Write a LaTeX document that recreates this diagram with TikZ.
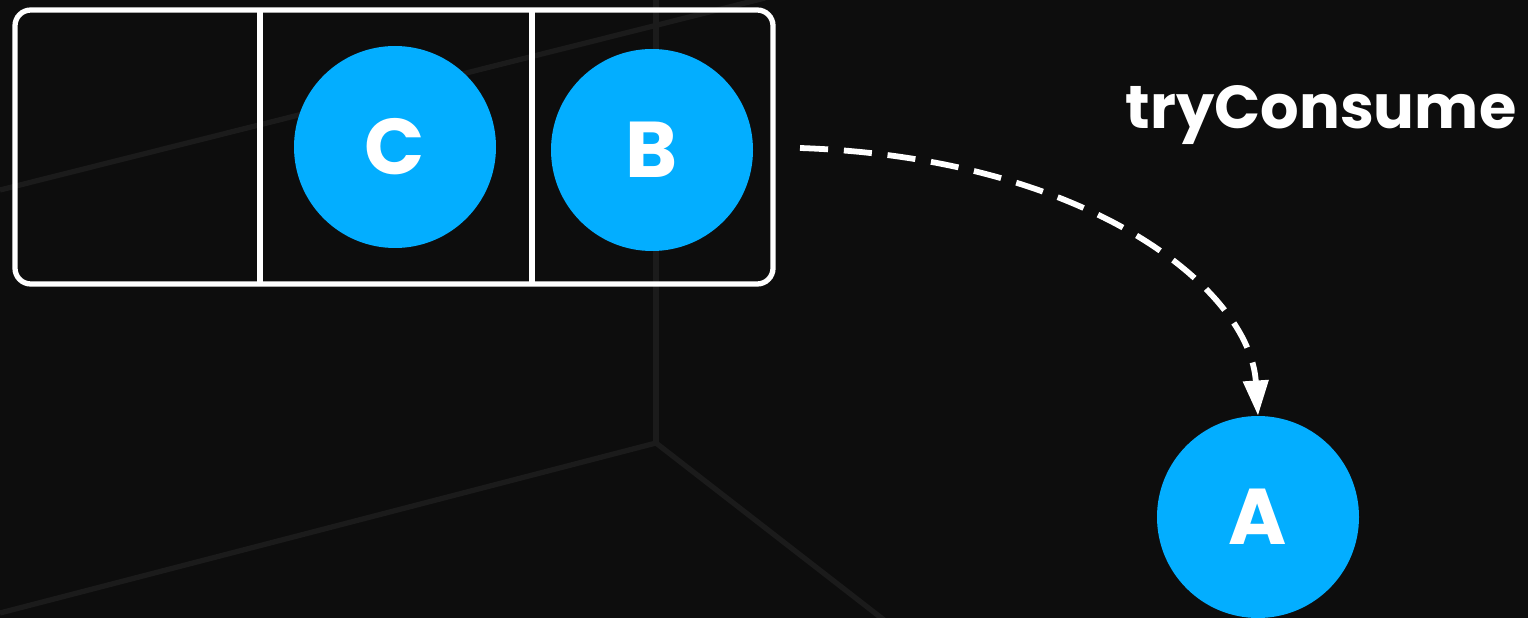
\documentclass[tikz,border=0pt]{standalone}
\usepackage{fontspec}
\setmainfont{Poppins}[BoldFont={* Bold}]
\usetikzlibrary{arrows.meta}
\definecolor{bg}{HTML}{0D0D0D}
\definecolor{gridline}{HTML}{1B1B1B}
\definecolor{ball}{HTML}{03AEFF}
\begin{document}
\begin{tikzpicture}[x=0.02cm,y=-0.02cm,
  ballnode/.style={circle,fill=ball,minimum size=202*0.02cm,inner sep=0pt,
    text=white,font=\fontsize{45}{45}\selectfont\bfseries},
  frame/.style={draw=white,line width=3pt},
  guide/.style={draw=gridline,line width=3pt},
  flow/.style={draw=white,line width=3.3pt,dash pattern=on 16pt off 9pt,
    -{Triangle[length=20pt,width=14pt]}}]
  % canvas
  \fill[bg] (0,0) rectangle (1528,618);
  \useasboundingbox (0,0) rectangle (1528,618);
  % faint perspective guides
  \coordinate (corner) at (656,443);
  \draw[guide] (656,0) -- (corner);
  \draw[guide] (corner) -- (0,613);
  \draw[guide] (corner) -- (884,620);
  \draw[guide] (0,190) -- (765,-2);
  % queue with three slots
  \draw[frame,rounded corners=9pt] (15,10) rectangle (773,284);
  \draw[frame] (260,10) -- (260,284);
  \draw[frame] (532,10) -- (532,284);
  % items
  \node[ballnode] (c) at (395,147) {C};
  \node[ballnode] (b) at (652,150) {B};
  \node[ballnode] (a) at (1258,517) {A};
  % label and transfer arrow
  \node[text=white,font=\fontsize{34.5}{34.5}\selectfont\bfseries,anchor=base] (lbl) at (1321,129) {tryConsume};
  \coordinate (start) at (800,148);
  \draw[flow] (start) .. controls (1090,158) and (1250,290) .. (a.north);
\end{tikzpicture}
\end{document}
